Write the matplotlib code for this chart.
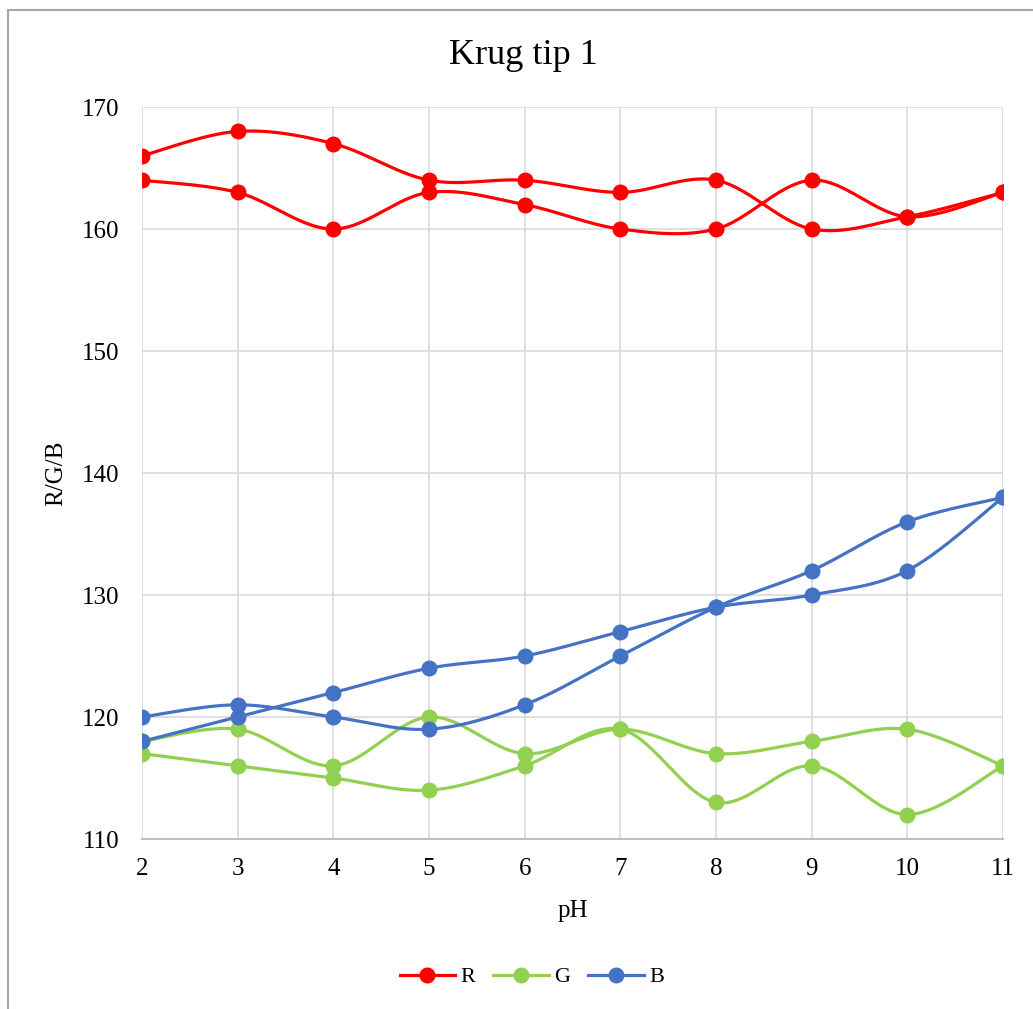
import matplotlib
matplotlib.use("Agg")
import matplotlib.pyplot as plt
import numpy as np
from matplotlib.lines import Line2D
from matplotlib.patches import Rectangle

plt.rcParams["font.family"] = ["Liberation Serif", "DejaVu Serif"]

ph = [2, 3, 4, 5, 6, 7, 8, 9, 10, 11]

r_first = [166, 168, 167, 164, 164, 163, 164, 160, 161, 163]
r_second = [164, 163, 160, 163, 162, 160, 160, 164, 161, 163]
g_first = [118, 119, 116, 120, 117, 119, 117, 118, 119, 116]
g_second = [117, 116, 115, 114, 116, 119, 113, 116, 112, 116]
b_first = [118, 120, 122, 124, 125, 127, 129, 130, 132, 138]
b_second = [120, 121, 120, 119, 121, 125, 129, 132, 136, 138]

red = "#FF0000"
green = "#92D050"
blue = "#4472C4"


def smooth(x, y, steps=30):
    # Excel-like smoothed line: cubic Bezier through points (Catmull-Rom tangents)
    pts = np.column_stack([x, y]).astype(float)
    n = len(pts)
    out = [pts[0]]
    t = np.linspace(0, 1, steps)[1:, None]
    for i in range(n - 1):
        p0 = pts[max(i - 1, 0)]
        p1 = pts[i]
        p2 = pts[i + 1]
        p3 = pts[min(i + 2, n - 1)]
        c1 = p1 + (p2 - p0) / 6
        c2 = p2 - (p3 - p1) / 6
        seg = ((1 - t) ** 3) * p1 + 3 * ((1 - t) ** 2) * t * c1 + 3 * (1 - t) * t ** 2 * c2 + t ** 3 * p2
        out.extend(seg)
    out = np.array(out)
    return out[:, 0], out[:, 1]


fig = plt.figure(figsize=(10.33, 10.09), dpi=100)
ax = fig.add_axes([142 / 1033, 1 - 839 / 1009, (1003 - 142) / 1033, (839 - 107) / 1009])

series = [
    (r_first, red), (r_second, red),
    (g_first, green), (g_second, green),
    (b_first, blue), (b_second, blue),
]
for values, color in series:
    sx, sy = smooth(ph, values)
    ax.plot(sx, sy, color=color, lw=2.3, solid_capstyle="round", zorder=3)
    ax.plot(ph, values, "o", color=color, ms=10.5, zorder=4)

ax.set_xlim(2, 11)
ax.set_ylim(110, 170)
ax.set_xticks(ph)
ax.set_yticks(range(110, 171, 10))
ax.grid(True, color="#D9D9D9", lw=1.2, zorder=0)
for side in ["top", "right", "left"]:
    ax.spines[side].set_visible(False)
ax.spines["bottom"].set_color("#BFBFBF")
ax.spines["bottom"].set_linewidth(1.5)
ax.tick_params(axis="both", length=0, labelsize=18)
ax.tick_params(axis="y", pad=16)
ax.tick_params(axis="x", pad=14)

ax.set_xlabel("pH", fontsize=18, labelpad=14)
ax.set_ylabel("R/G/B", fontsize=18, labelpad=11)
fig.text(0.507, 1 - 55 / 1009, "Krug tip 1", ha="center", va="center", fontsize=26)

handles = [
    Line2D([], [], color=red, lw=2.3, marker="o", ms=10.5),
    Line2D([], [], color=green, lw=2.3, marker="o", ms=10.5),
    Line2D([], [], color=blue, lw=2.3, marker="o", ms=10.5),
]
fig.legend(handles, ["R", "G", "B"], loc="center", bbox_to_anchor=(0.515, 1 - 977 / 1009),
           ncol=3, frameon=False, fontsize=16, handlelength=2.5, columnspacing=0.8,
           handletextpad=0.25)

fig.patches.append(Rectangle((8 / 1033, -0.1), 1.2, 1.1 - 10 / 1009, transform=fig.transFigure,
                             fill=False, edgecolor="#A6A6A6", lw=1.5))

fig.savefig("out.png", dpi=100)
